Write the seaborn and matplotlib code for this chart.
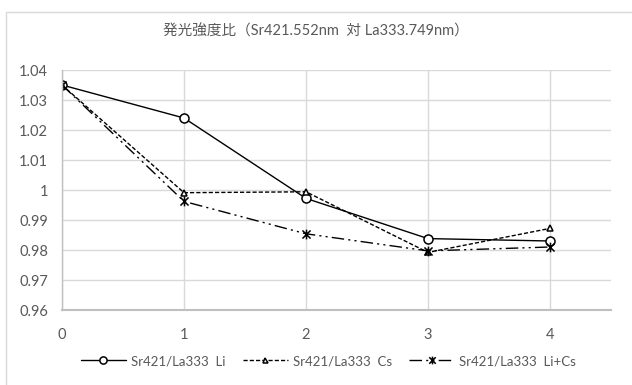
import numpy as np
import pandas as pd
import seaborn as sns
import matplotlib
matplotlib.use("Agg")
import matplotlib.pyplot as plt
from matplotlib.path import Path
from matplotlib.patches import Rectangle

# Data
x_vals = [0, 1, 2, 3, 4]
li_vals = [1.035, 1.024, 0.9972, 0.9838, 0.9830]
cs_vals = [1.035, 0.9991, 0.9994, 0.9792, 0.9872]
lics_vals = [1.035, 0.9962, 0.9854, 0.9797, 0.9810]
series_labels = ["Sr421/La333  Li", "Sr421/La333  Cs", "Sr421/La333  Li+Cs"]
title_text = "発光強度比（Sr421.552nm  対 La333.749nm）"
y_ticks = [0.96, 0.97, 0.98, 0.99, 1.00, 1.01, 1.02, 1.03, 1.04]
y_tick_labels = ["0.96", "0.97", "0.98", "0.99", "1", "1.01", "1.02", "1.03", "1.04"]

sns.set_theme(style="white")
plt.rcParams["font.family"] = ["Lato", "Noto Sans CJK JP", "DejaVu Sans"]

grey = "#595959"
grid_grey = "#d9d9d9"

fig = plt.figure(figsize=(6.32, 3.85), dpi=100)
ax = fig.add_axes([62 / 632, 75 / 385, (611 - 62) / 632, (315 - 75) / 385])

# star marker: an x with a vertical bar through it
star = Path(
    [(-1, -1), (1, 1), (-1, 1), (1, -1), (0, -1.2), (0, 1.2)],
    [Path.MOVETO, Path.LINETO, Path.MOVETO, Path.LINETO, Path.MOVETO, Path.LINETO],
)

styles = [
    dict(marker="o", markersize=6.5, linestyle="-"),
    dict(marker="^", markersize=4.5, linestyle=(0, (3, 1.5))),
    dict(marker=star, markersize=7, linestyle=(0, (9, 3, 1.5, 3, 1.5, 3))),
]

for vals, label, st in zip([li_vals, cs_vals, lics_vals], series_labels, styles):
    df = pd.DataFrame({"x": x_vals, "y": vals})
    sns.lineplot(
        data=df, x="x", y="y", ax=ax, color="black", linewidth=1.0,
        markerfacecolor="white", markeredgecolor="black", markeredgewidth=1.1,
        label=label, **st,
    )

ax.set_xlim(0, 4.5)
ax.set_ylim(0.96, 1.04)
ax.set_xticks(x_vals)
ax.set_xticklabels([str(v) for v in x_vals])
ax.set_yticks(y_ticks)
ax.set_yticklabels(y_tick_labels)
ax.set_xlabel("")
ax.set_ylabel("")
ax.grid(True, color=grid_grey, linewidth=1.0)
ax.set_axisbelow(True)
for side in ["top", "right"]:
    ax.spines[side].set_visible(False)
ax.spines["bottom"].set_color("#bfbfbf")
ax.spines["bottom"].set_linewidth(1.5)
ax.spines["left"].set_color("#bfbfbf")
ax.spines["left"].set_linewidth(1.0)
ax.tick_params(axis="both", length=0, colors=grey, labelsize=10.5)
ax.tick_params(axis="y", pad=10)
ax.tick_params(axis="x", pad=13)

ax.legend_.remove()
handles, labels = ax.get_legend_handles_labels()
fig.legend(
    handles, labels, loc="center", bbox_to_anchor=(0.52, 1 - 361 / 385),
    ncol=3, frameon=False, fontsize=9.5, labelcolor=grey,
    handlelength=3.4, handletextpad=0.4, columnspacing=1.3, markerscale=0.8,
)

fig.text(0.5, 1 - 31 / 385, title_text, ha="center", va="center",
         fontsize=10.5, color=grey)

# chart frame
fig.patches.append(Rectangle((6 / 632, -0.05), 1.1, 1 - 12 / 385 + 0.05,
                             transform=fig.transFigure, fill=False,
                             edgecolor="#d9d9d9", linewidth=1.0))

fig.savefig("out.png", dpi=100)
